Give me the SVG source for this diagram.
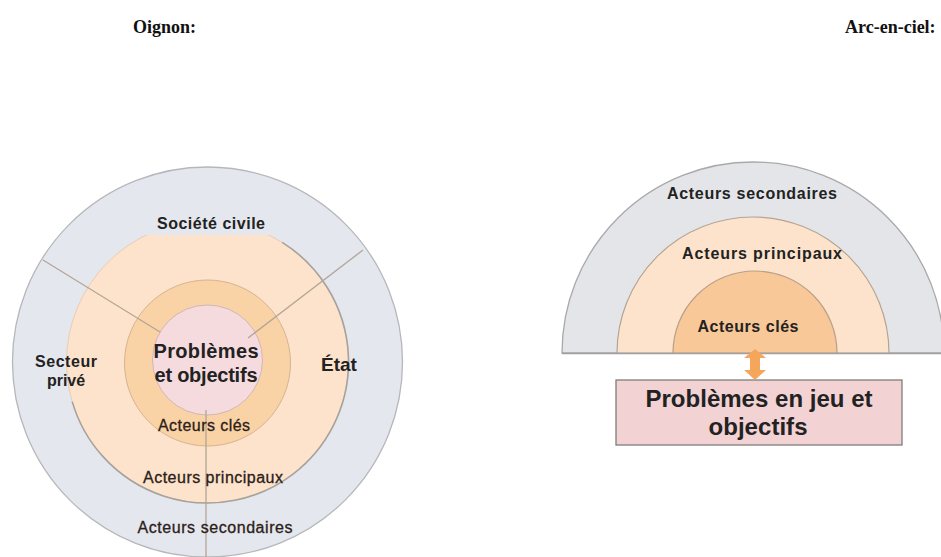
<svg xmlns="http://www.w3.org/2000/svg" width="941" height="557" viewBox="0 0 941 557">
<style>
.title{font-family:"Liberation Serif","Times New Roman",serif;font-weight:bold;font-size:18px;fill:#111}
.lbl{font-family:"Liberation Sans",Arial,sans-serif;font-weight:bold;fill:#222}
.reg{font-family:"Liberation Sans",Arial,sans-serif;font-size:16px;fill:#2a2018;stroke:#2a2018;stroke-width:0.3}
.div{stroke:#b3a596;stroke-width:1.3;fill:none}
</style>
<rect width="941" height="557" fill="#ffffff"/>
<text class="title" x="133" y="33">Oignon:</text>
<text class="title" x="845" y="33">Arc-en-ciel:</text>

<g id="onion">
  <g id="onion-secondaires">
    <circle cx="207.5" cy="362" r="195" fill="#e4e7ed" stroke="#b6b7bb" stroke-width="1.3"/>
  </g>
  <g id="onion-principaux">
    <circle cx="207.5" cy="362" r="141" fill="#fde3cb" stroke="#e9cdb4" stroke-width="1"/>
    <path d="M 282.2 242.4 A 141 141 0 1 1 72.2 401.6" fill="none" stroke="#a8a29c" stroke-width="1.6"/>
  </g>
  <g id="onion-cles">
    <circle cx="207.5" cy="363" r="83" fill="#f9d2a6" stroke="#d4b493" stroke-width="1"/>
  </g>
  <g id="onion-centre">
    <circle cx="207.5" cy="360" r="55" fill="#f5dbde" stroke="#cfb7b2" stroke-width="1"/>
  </g>
  <g id="onion-dividers">
    <line class="div" x1="43" y1="260" x2="160" y2="332"/>
    <line class="div" x1="363" y1="250" x2="248" y2="338"/>
    <line class="div" x1="206" y1="410" x2="206" y2="557"/>
  </g>
  <g id="onion-societe-civile">
    <rect x="143" y="206" width="142" height="29" fill="#e4e7ed"/>
    <text class="lbl" x="211" y="229" font-size="16" text-anchor="middle" textLength="108">Société civile</text>
  </g>
  <g id="onion-secteur-prive">
    <text class="lbl" x="66" y="367" font-size="16" text-anchor="middle" textLength="62">Secteur</text>
    <text class="lbl" x="66" y="386" font-size="16" text-anchor="middle">privé</text>
  </g>
  <g id="onion-etat">
    <text class="lbl" x="339" y="371" font-size="19" text-anchor="middle">État</text>
  </g>
  <g id="onion-problemes">
    <text class="lbl" x="206" y="358" font-size="20" text-anchor="middle" textLength="105" fill="#2a1f1f">Problèmes</text>
    <text class="lbl" x="206" y="382" font-size="20" text-anchor="middle" textLength="103" fill="#2a1f1f">et objectifs</text>
  </g>
  <text class="reg" x="204" y="431" text-anchor="middle" textLength="92">Acteurs clés</text>
  <text class="reg" x="213" y="483" text-anchor="middle" textLength="140">Acteurs principaux</text>
  <text class="reg" x="215" y="533" text-anchor="middle" textLength="155">Acteurs secondaires</text>
</g>

<g id="rainbow">
  <g id="rb-secondaires">
    <path d="M 562 353 A 191 191 0 0 1 944 353 Z" fill="#e4e5e8" stroke="#a9a9ab" stroke-width="1.3"/>
    <text class="lbl" x="752" y="199" font-size="16" text-anchor="middle" textLength="170">Acteurs secondaires</text>
  </g>
  <g id="rb-principaux">
    <path d="M 617 353 A 136 136 0 0 1 889 353 Z" fill="#fde3cb" stroke="#b4a494" stroke-width="1.2"/>
    <text class="lbl" x="762" y="259" font-size="16" text-anchor="middle" textLength="160">Acteurs principaux</text>
  </g>
  <g id="rb-cles">
    <path d="M 673 353 A 82 82 0 0 1 837 353 Z" fill="#f8c898" stroke="#b8a08a" stroke-width="1.2"/>
    <text class="lbl" x="748" y="332" font-size="16" text-anchor="middle" textLength="101">Acteurs clés</text>
  </g>
  <line x1="562" y1="353.5" x2="941" y2="353.5" stroke="#a0a0a2" stroke-width="1.4"/>
  <g id="rb-problemes">
    <rect x="616" y="380" width="286" height="65" fill="#f2d2d2" stroke="#7d7d7d" stroke-width="1.3"/>
    <text class="lbl" x="759" y="407" font-size="24" text-anchor="middle" textLength="227" fill="#2a1a1a">Problèmes en jeu et</text>
    <text class="lbl" x="758" y="435" font-size="24" text-anchor="middle" textLength="99" fill="#2a1a1a">objectifs</text>
  </g>
</g>

<g id="connectors">
  <polygon points="755,349 766,358 760,358 760,370 766,370 755,380 744,370 750,370 750,358 744,358" fill="#f5a65b"/>
</g>
</svg>
